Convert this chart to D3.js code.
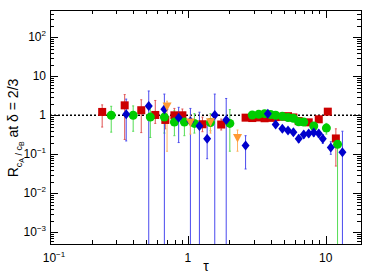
<!DOCTYPE html>
<meta charset="utf-8">
<style>
body { margin: 0; background: #fff; }
svg { display: block; font-family: "Liberation Sans", Arial, sans-serif; }
</style>
<svg id="chart" width="382" height="274"></svg>
<script src="https://cdn.jsdelivr.net/npm/d3@7"></script>
<script>
// [tau, value, low, high]; low = 0 means the bar runs off the bottom
var redSquares = [
  [0.239, 1.22, 0.50, 1.85], [0.348, 1.80, 0.24, 3.4], [0.459, 1.35, 0.36, 2.5],
  [0.580, 1.02, 0.62, 2.4], [0.686, 0.76, 0.45, 1.3], [0.798, 1.0, 0.6, 1.5],
  [0.912, 1.0, 0.6, 1.45], [1.275, 0.59, 0.38, 0.9], [1.744, 0.58, 0.42, 0.8],
  [2.62, 0.87, 0.78, 0.98], [2.93, 0.85, 0.77, 0.95], [3.26, 0.88, 0.8, 0.97],
  [3.6, 0.84, 0.76, 0.93], [3.98, 0.86, 0.78, 0.95], [4.33, 0.9, 0.82, 0.99],
  [4.84, 0.92, 0.84, 1.01], [5.32, 0.95, 0.86, 1.05], [5.82, 0.88, 0.8, 0.97],
  [6.36, 0.71, 0.62, 0.8], [7.52, 0.66, 0.57, 0.76], [8.89, 0.79, 0.68, 0.9],
  [10.34, 1.24, 1.05, 1.45], [11.83, 0.255, 0.05, 0.45]
];
var greenCircles = [
  [0.278, 1.0, 0.37, 1.7], [0.401, 1.0, 0.39, 1.74], [0.534, 0.9, 0.27, 1.6],
  [0.675, 0.9, 0.35, 1.6], [0.798, 0.67, 0.3, 1.3], [0.943, 0.67, 0.3, 1.2],
  [1.115, 0.62, 0.35, 1.1], [1.458, 0.65, 0.4, 1.1], [2.014, 0.62, 0.12, 1.4],
  [2.93, 1.02, 0.9, 1.15], [3.26, 1.06, 0.94, 1.18], [3.6, 1.1, 0.98, 1.22],
  [3.98, 1.05, 0.93, 1.17], [4.33, 1.0, 0.89, 1.12], [4.84, 0.94, 0.83, 1.05],
  [5.32, 0.88, 0.78, 0.98], [5.82, 0.84, 0.74, 0.94], [6.36, 0.68, 0.58, 0.78],
  [6.92, 0.67, 0.57, 0.77], [8.18, 0.53, 0.42, 0.64], [10.1, 0.47, 0.33, 0.62],
  [12.17, 0.18, 0, 0.3]
];
var blueDiamonds = [
  [0.357, 1.06, 0.22, 2.6], [0.520, 1.74, 0, 4.2], [0.675, 1.43, 0, 3.5],
  [0.857, 0.87, 0.2, 1.6], [1.043, 0.7, 0, 1.5], [1.212, 0.53, 0, 1.2],
  [1.379, 0.251, 0.077, 0.59], [1.566, 1.02, 0, 3.5], [1.896, 0.757, 0, 2.7],
  [2.62, 0.169, 0.042, 0.3], [3.80, 1.1, 0.95, 1.28], [4.33, 0.58, 0.5, 0.67],
  [4.84, 0.45, 0.38, 0.53], [5.32, 0.41, 0.35, 0.48], [5.82, 0.37, 0.31, 0.44],
  [6.36, 0.25, 0.2, 0.31], [6.92, 0.32, 0.26, 0.39], [7.52, 0.34, 0.28, 0.41],
  [8.18, 0.36, 0.29, 0.44], [8.89, 0.34, 0.27, 0.42], [9.51, 0.25, 0.19, 0.32],
  [10.87, 0.15, 0.1, 0.21], [13.2, 0.113, 0, 0.39]
];
var orangeTriangles = [
  [0.706, 1.74, 0.12, 2.3], [1.043, 0.67, 0.33, 0.95], [1.458, 0.68, 0.35, 1.0],
  [2.29, 0.27, 0.12, 0.42]
];
var xTickLabels = [[0.1, "10", "\u22121"], [1, "1", null], [10, "10", null]];
var yTickLabels = [[1e-3, "10", "\u22123"], [1e-2, "10", "\u22122"], [1e-1, "10", "\u22121"],
  [1, "1", null], [10, "10", null], [100, "10", "2"]];

var svg = d3.select("#chart");
var pLeft = 50, pRight = 361, pTop = 10, pBottom = 244;

var x = d3.scaleLog().domain([0.1, 18]).range([pLeft, pRight]);
var y = d3.scaleLog().domain([Math.pow(10, -3.3), Math.pow(10, 2.7)]).range([pBottom, pTop]);

// frame
svg.append("rect")
  .attr("x", pLeft + 0.5).attr("y", pTop + 0.5)
  .attr("width", pRight - pLeft).attr("height", pBottom - pTop)
  .attr("fill", "none").attr("stroke", "#000").attr("stroke-width", 1);

// ticks on all four sides
var xTicks = [];
for (var e = -1; e <= 1; e++) {
  for (var m = 1; m <= 9; m++) {
    var v = m * Math.pow(10, e);
    if (v >= 0.1 && v <= 18) xTicks.push({ v: v, major: m === 1 });
  }
}
var yTicks = [];
for (var e = -4; e <= 2; e++) {
  for (var m = 1; m <= 9; m++) {
    var v = m * Math.pow(10, e);
    if (v >= y.domain()[0] && v <= y.domain()[1]) yTicks.push({ v: v, major: m === 1 });
  }
}
var ticks = svg.append("g").attr("stroke", "#000").attr("stroke-width", 1);
xTicks.forEach(function(t) {
  var px = Math.round(x(t.v)) + 0.5, len = t.major ? 8 : 4;
  ticks.append("line").attr("x1", px).attr("x2", px).attr("y1", pBottom).attr("y2", pBottom - len);
  ticks.append("line").attr("x1", px).attr("x2", px).attr("y1", pTop).attr("y2", pTop + len);
});
yTicks.forEach(function(t) {
  var py = Math.round(y(t.v)) + 0.5, len = t.major ? 8 : 4;
  ticks.append("line").attr("y1", py).attr("y2", py).attr("x1", pLeft).attr("x2", pLeft + len);
  ticks.append("line").attr("y1", py).attr("y2", py).attr("x1", pRight).attr("x2", pRight - len);
});

// tick labels
function powLabel(g, base, exp) {
  g.append("tspan").text(base);
  if (exp) g.append("tspan").attr("dy", -5).attr("font-size", 8).text(exp);
}
xTickLabels.forEach(function(t) {
  var g = svg.append("text")
    .attr("x", x(t[0]) + (t[2] ? 4 : 0)).attr("y", pBottom + 18)
    .attr("text-anchor", "middle").attr("font-size", 12).attr("fill", "#000");
  powLabel(g, t[1], t[2]);
});
yTickLabels.forEach(function(t) {
  var g = svg.append("text")
    .attr("x", pLeft - 4).attr("y", y(t[0]) + 4)
    .attr("text-anchor", "end").attr("font-size", 12).attr("fill", "#000");
  powLabel(g, t[1], t[2]);
});

// axis titles
svg.append("text")
  .attr("x", 206).attr("y", 271)
  .attr("text-anchor", "middle").attr("font-size", 14).text("\u03c4");

var yt = svg.append("text")
  .attr("transform", "translate(18,128) rotate(-90)")
  .attr("text-anchor", "middle").attr("font-size", 14);
yt.append("tspan").text("R");
yt.append("tspan").attr("dy", 4).attr("font-size", 9).text("c");
yt.append("tspan").attr("dy", 2).attr("font-size", 7).text("A");
yt.append("tspan").attr("dy", -2).attr("font-size", 9).text(" / c");
yt.append("tspan").attr("dy", 2).attr("font-size", 7).text("B");
yt.append("tspan").attr("dy", -6).text("  at  \u03b4 = 2/3");

// reference line at 1
svg.append("line")
  .attr("x1", pLeft).attr("x2", pRight)
  .attr("y1", y(1)).attr("y2", y(1))
  .attr("stroke", "#000").attr("stroke-width", 1.5).attr("stroke-dasharray", "2,2");

var plot = svg.append("g");

function errBars(data, color) {
  plot.append("g").selectAll("line").data(data).enter().append("line")
    .attr("x1", function(d) { return x(d[0]); })
    .attr("x2", function(d) { return x(d[0]); })
    .attr("y1", function(d) { return d[2] > 0 ? Math.min(y(d[2]), pBottom) : pBottom; })
    .attr("y2", function(d) { return y(d[3]); })
    .attr("stroke", color).attr("stroke-width", 1);
  plot.append("g").selectAll("path").data(data).enter().append("path")
    .attr("d", function(d) {
      var px = x(d[0]), s = "";
      if (d[2] > 0) s += "M" + (px - 1) + "," + y(d[2]) + "h2";
      s += "M" + (px - 1) + "," + y(d[3]) + "h2";
      return s;
    })
    .attr("stroke", color).attr("stroke-width", 1);
}

errBars(redSquares, "#e05555");
errBars(greenCircles, "#55dd55");
errBars(blueDiamonds, "#4a4aee");
errBars(orangeTriangles, "#ffb060");

plot.append("g").selectAll("rect").data(redSquares).enter().append("rect")
  .attr("x", function(d) { return x(d[0]) - 4; })
  .attr("y", function(d) { return y(d[1]) - 4; })
  .attr("width", 8).attr("height", 8)
  .attr("fill", "#cc0000");

plot.append("g").selectAll("circle").data(greenCircles).enter().append("circle")
  .attr("cx", function(d) { return x(d[0]); })
  .attr("cy", function(d) { return y(d[1]); })
  .attr("r", 4.5)
  .attr("fill", "#00cc00");

plot.append("g").selectAll("path").data(blueDiamonds).enter().append("path")
  .attr("d", function(d) {
    var px = x(d[0]), py = y(d[1]);
    return "M" + px + "," + (py - 5) + "L" + (px + 4) + "," + py + "L" + px + "," + (py + 5) + "L" + (px - 4) + "," + py + "Z";
  })
  .attr("fill", "#0000cc");

plot.append("g").selectAll("path").data(orangeTriangles).enter().append("path")
  .attr("d", function(d) {
    var px = x(d[0]), py = y(d[1]);
    return "M" + (px - 4.5) + "," + (py - 3.5) + "L" + (px + 4.5) + "," + (py - 3.5) + "L" + px + "," + (py + 5) + "Z";
  })
  .attr("fill", "#ff9933");
</script>
